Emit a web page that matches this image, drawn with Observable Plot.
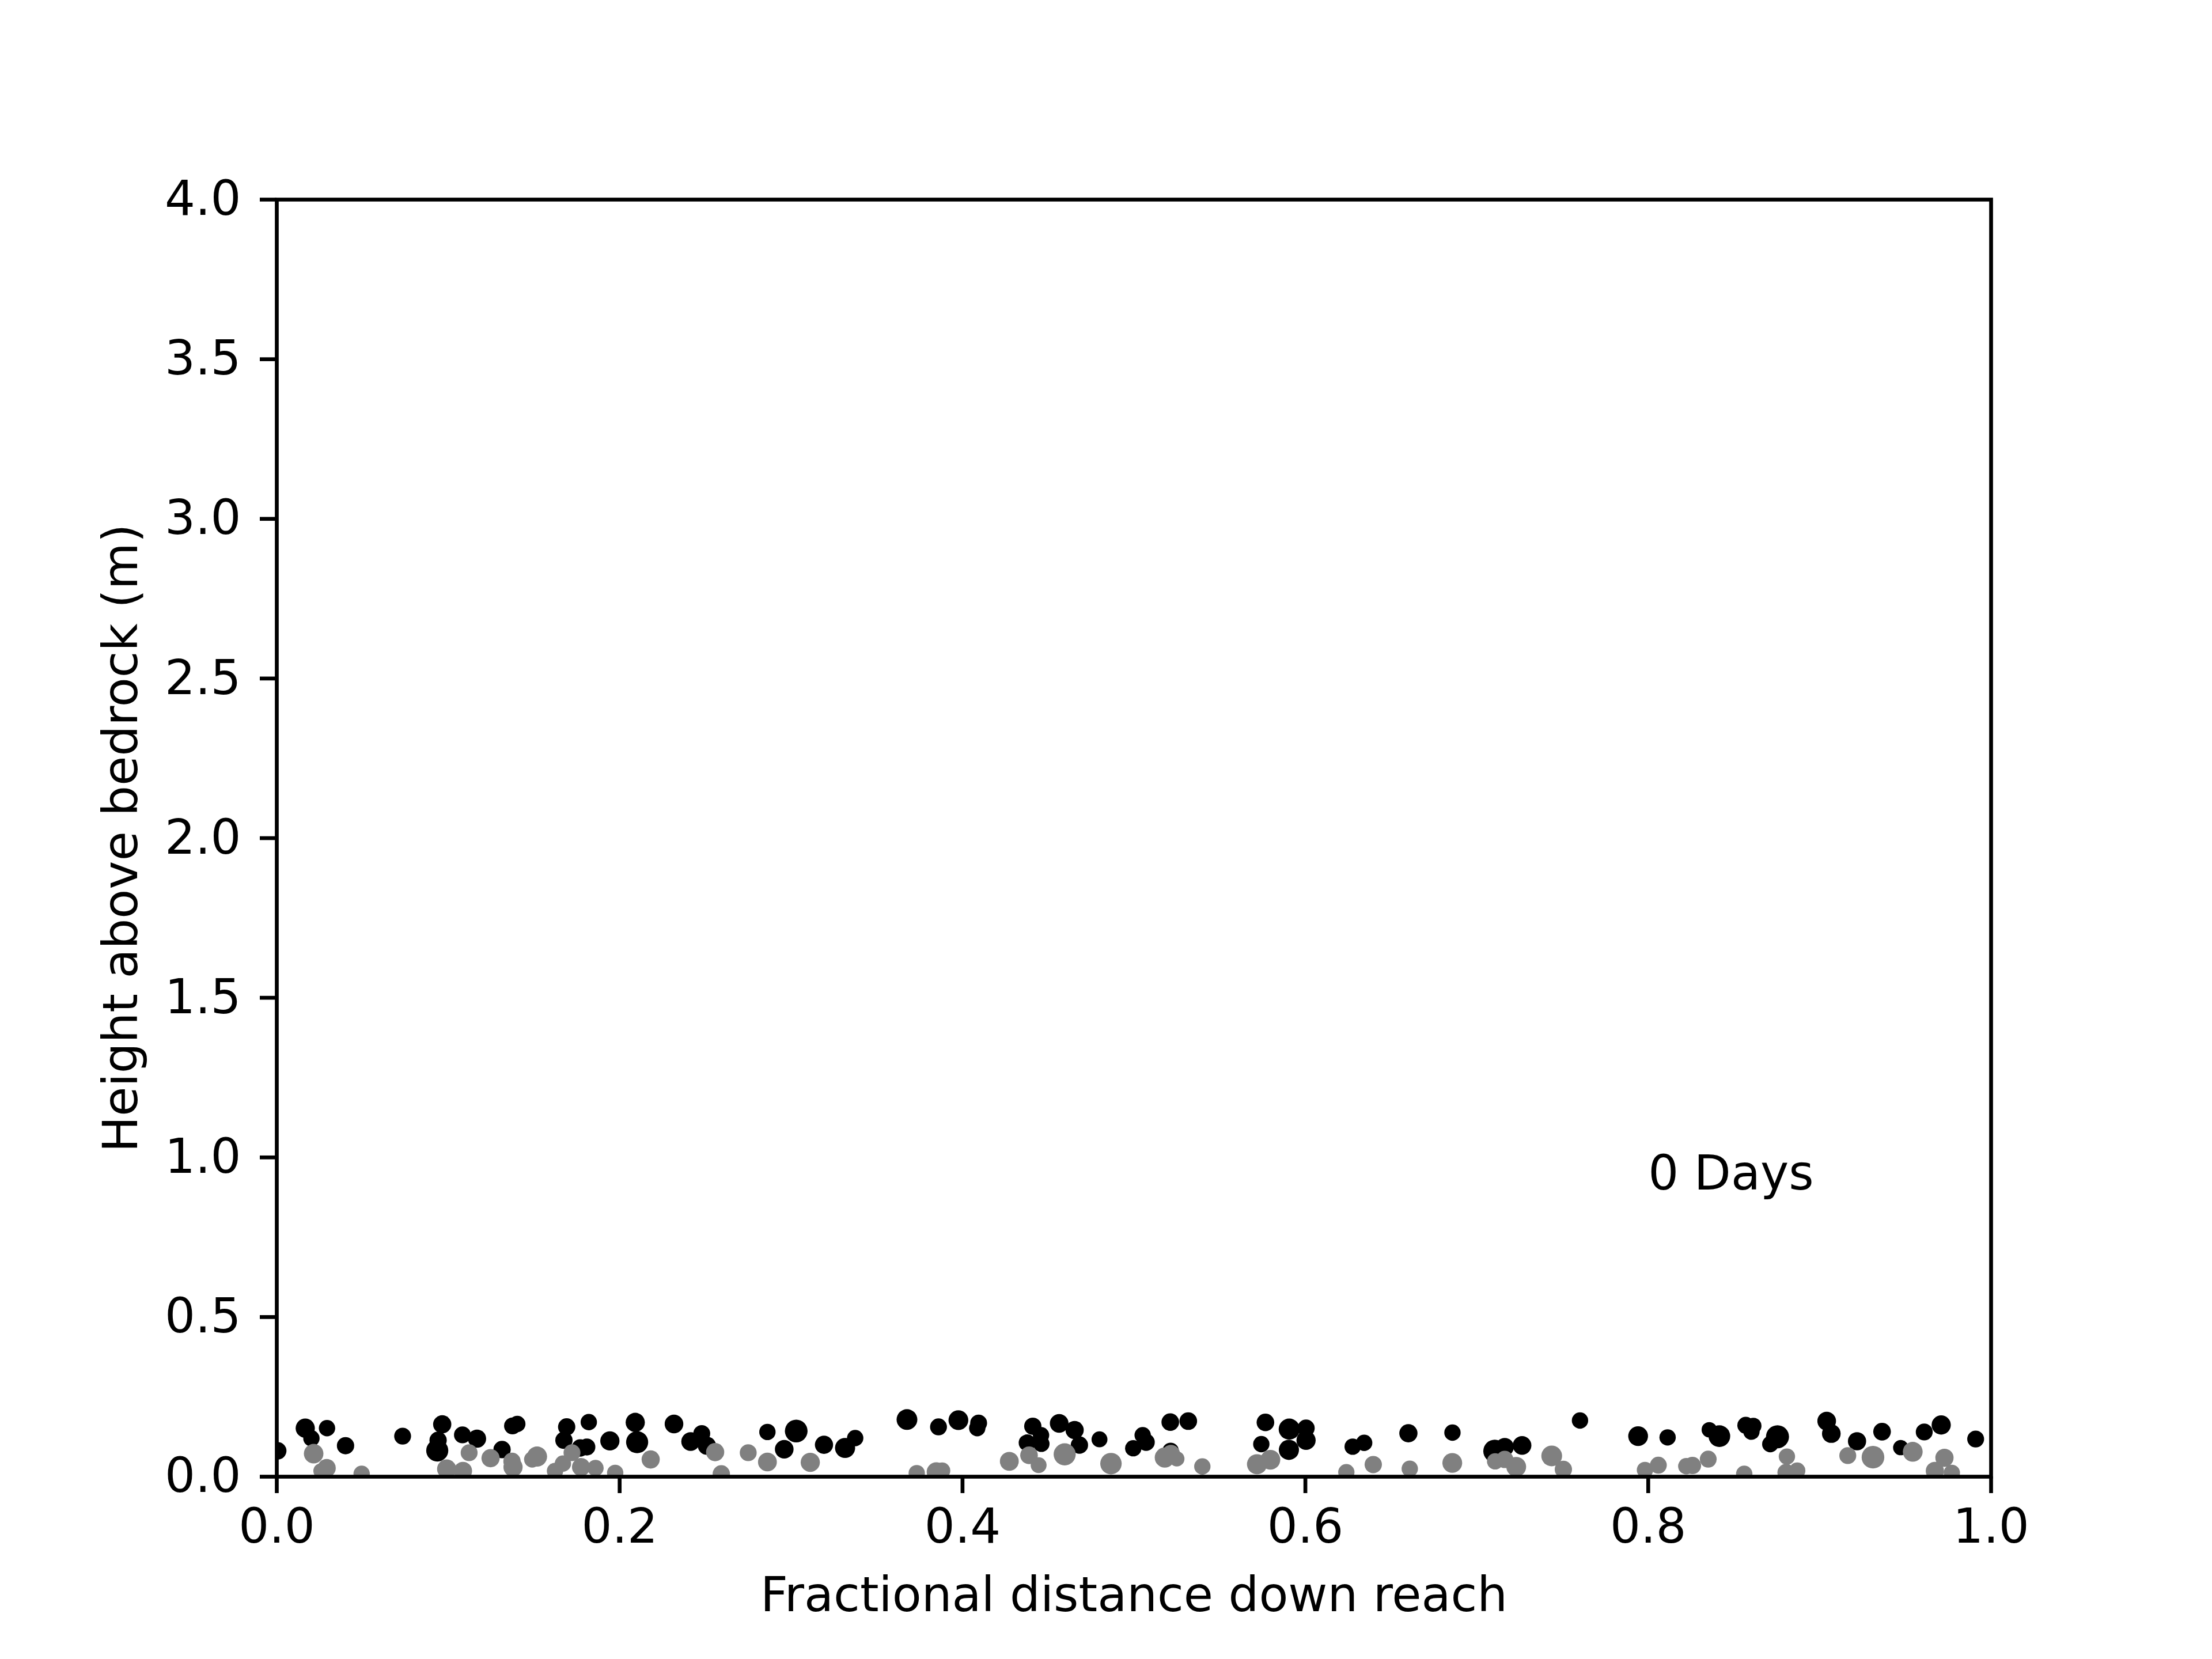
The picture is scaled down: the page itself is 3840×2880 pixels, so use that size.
<!DOCTYPE html>
<html>
<head>
<meta charset="utf-8">
<script src="https://cdn.jsdelivr.net/npm/d3@7"></script>
<script src="https://cdn.jsdelivr.net/npm/@observablehq/plot@0.6"></script>
<style>
  html, body { margin: 0; padding: 0; background: white; }
</style>
</head>
<body>
<div id="chart"></div>
<script>
// Surface-layer grains (black)
const blackX = [0.0006,0.0166,0.0202,0.0293,0.0401,0.0734,0.0965,0.0941,0.0936,0.1083,0.1168,0.1314,0.1375,0.1403,
  0.1691,0.1675,0.1770,0.1809,0.1820,0.1943,0.2091,0.2102,0.2317,0.2414,0.2479,0.2509,0.2862,0.3030,0.2960,0.3192,
  0.3315,0.3374,0.3676,0.3860,0.3976,0.4094,0.4086,0.4410,0.4458,0.4377,0.4460,0.4564,0.4654,0.4682,0.4799,
  0.4996,0.5051,0.5071,0.5212,0.5317,0.5214,0.5767,0.5743,0.5906,0.6004,0.6004,0.5904,0.6276,0.6343,0.6601,
  0.6858,0.7105,0.7163,0.7264,0.7602,0.7941,0.8113,
  0.8356,0.8415,0.8569,0.8613,0.8602,0.8754,0.8712,0.9041,0.9068,0.9218,0.9364,0.9473,0.9610,0.9709,0.9910];
const blackY = [0.081,0.152,0.120,0.152,0.097,0.127,0.164,0.114,0.082,0.131,0.119,0.085,0.159,0.165,
  0.156,0.114,0.090,0.093,0.171,0.112,0.170,0.108,0.165,0.110,0.135,0.097,0.140,0.143,0.086,0.100,
  0.090,0.121,0.179,0.156,0.177,0.168,0.152,0.158,0.130,0.106,0.103,0.167,0.146,0.099,0.117,
  0.089,0.130,0.108,0.171,0.174,0.081,0.170,0.102,0.149,0.152,0.114,0.084,0.094,0.106,0.136,
  0.138,0.080,0.093,0.098,0.176,0.127,0.123,
  0.147,0.127,0.161,0.159,0.141,0.125,0.102,0.174,0.135,0.111,0.141,0.091,0.140,0.162,0.118];
const blackS = [13,16,11.6,11.6,13,12.4,14.4,13,21.2,12.4,14.4,13,12.4,11.6,
  13,13,13,12.4,11.6,16,16,21.2,15.1,15.1,12.4,14.4,11.6,22.3,15.1,14.4,
  17.6,11.6,18.7,12.4,17,12.4,11.6,13,11.6,12.4,11.6,15.1,14.4,13,11,
  11.6,11.6,13,13.5,13.5,11.6,13.5,11.6,19.4,13,16,17.6,11.6,11.6,14.4,
  11.6,23,14.4,15.1,11.6,17,11.6,
  10.2,20.4,12.4,11.6,11.6,23,11.6,15.1,15.1,14.4,13.5,10.2,12.4,16,12.4];

// Sub-surface grains (gray)
const grayX = [0.0215,0.0291,0.0258,0.0495,0.0991,0.1086,0.1122,0.1247,0.1372,0.1378,0.1490,0.1518,
  0.1623,0.1669,0.1722,0.1775,0.1859,0.1974,0.2181,0.2557,0.2593,0.2750,0.2862,0.3112,
  0.3733,0.3847,0.3881,0.4273,0.4388,0.4444,0.4596,0.4866,
  0.5180,0.5216,0.5250,0.5399,0.5718,0.5796,0.6239,0.6396,0.6609,
  0.6857,0.7107,0.7163,0.7230,0.7437,0.7505,0.7981,0.8059,0.8222,0.8258,
  0.8350,0.8560,0.8809,0.8804,0.8869,0.9164,0.9311,0.9543,0.9728,0.9672,0.9771];
const grayY = [0.072,0.027,0.018,0.009,0.024,0.018,0.075,0.058,0.048,0.030,0.054,0.063,
  0.018,0.041,0.075,0.030,0.027,0.012,0.054,0.077,0.009,0.075,0.046,0.045,
  0.011,0.015,0.019,0.048,0.067,0.036,0.070,0.041,
  0.060,0.071,0.056,0.032,0.039,0.053,0.014,0.038,0.025,
  0.043,0.048,0.054,0.031,0.065,0.023,0.021,0.036,0.033,0.035,
  0.055,0.009,0.063,0.013,0.019,0.066,0.061,0.078,0.059,0.018,0.012];
const grayS = [16.6,14.4,10.2,11.6,16,14.4,12.4,14.4,13,16,11.6,17.6,
  11.6,11.6,12.4,14.4,11.6,11.6,14.4,14.4,13,12.4,15.4,16,
  11.6,16,11.6,15.4,13.5,11,21.2,20,
  17.6,14.4,10.2,11.6,17.6,17,11.6,13,11.6,
  17,11.6,13,17,18.7,13,11.6,12.4,11.6,13,
  12.4,11.6,11.6,13,11.6,12.4,22.3,17,14.4,14.4,11.6];

const xTicks = [0.0, 0.2, 0.4, 0.6, 0.8, 1.0];
const yTicks = [0.0, 0.5, 1.0, 1.5, 2.0, 2.5, 3.0, 3.5, 4.0];
const xLabel = "Fractional distance down reach";
const yLabel = "Height above bedrock (m)";
const annotation = {x: 0.8, y: 0.9, text: "0 Days"};

const black = blackX.map((x, i) => ({x, y: blackY[i], s: blackS[i]}));
const gray = grayX.map((x, i) => ({x, y: grayY[i], s: grayS[i]}));

const lw = 6.667;   // 0.8pt at 600 dpi
const fs = 83.3;    // 10pt at 600 dpi

const chart = Plot.plot({
  width: 3840,
  height: 2880,
  marginLeft: 480,
  marginRight: 384,
  marginTop: 346,
  marginBottom: 317,
  style: {fontFamily: "DejaVu Sans", fontSize: fs + "px", background: "white", color: "black"},
  x: {domain: [0, 1]},
  y: {domain: [0, 4]},
  r: {type: "sqrt", domain: [0, 1], range: [0, 4.1667]},
  marks: [
    Plot.dot(black, {x: "x", y: "y", r: "s", fill: "black", stroke: "none", clip: true}),
    Plot.dot(gray, {x: "x", y: "y", r: "s", fill: "#808080", stroke: "none", clip: true}),
    Plot.text([annotation], {x: "x", y: "y", text: "text", textAnchor: "start", lineAnchor: "bottom", fontSize: fs, fill: "black"}),
    Plot.frame({stroke: "black", strokeWidth: lw}),
    Plot.axisX({ticks: xTicks, tickFormat: d3.format(".1f"), tickSize: 29, tickPadding: 26, strokeWidth: lw, fontSize: fs, label: null}),
    Plot.axisY({ticks: yTicks, tickFormat: d3.format(".1f"), tickSize: 29, tickPadding: 33, strokeWidth: lw, fontSize: fs, label: null}),
    Plot.text([xLabel], {frameAnchor: "bottom", dy: 207, text: d => d, textAnchor: "middle", lineAnchor: "middle", fontSize: fs, fill: "black"}),
    Plot.text([yLabel], {frameAnchor: "left", dx: -269, text: d => d, rotate: -90, textAnchor: "middle", lineAnchor: "middle", fontSize: fs, fill: "black"})
  ]
});
document.getElementById("chart").appendChild(chart);
</script>
</body>
</html>
